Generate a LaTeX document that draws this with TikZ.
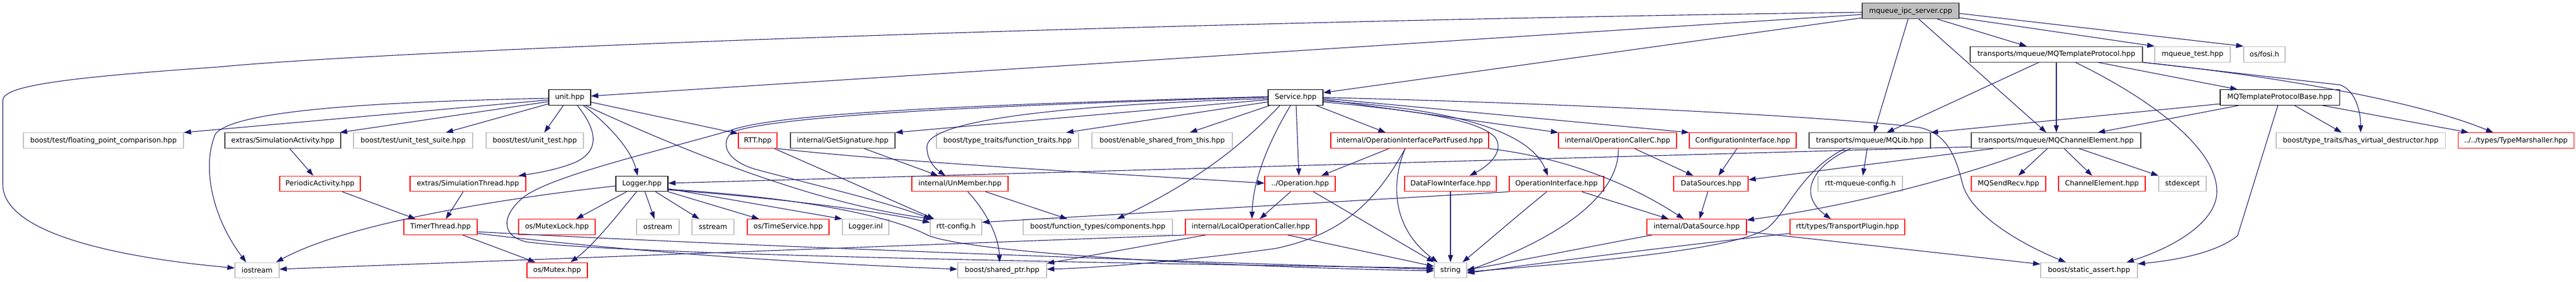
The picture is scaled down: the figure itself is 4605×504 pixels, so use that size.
\documentclass[tikz,border=0pt]{standalone}
\usepackage{fontspec}
\setmainfont{DejaVu Sans}
\usetikzlibrary{arrows.meta}
\definecolor{ecol}{HTML}{191970}
\definecolor{gb}{HTML}{BFBFBF}
\definecolor{db}{HTML}{404040}
\definecolor{rb}{HTML}{FF0000}
\begin{document}
\begin{tikzpicture}[x=1pt,y=-1pt,
 nd/.style={draw, rectangle, minimum height=27.7pt, inner sep=0pt, line width=1.1pt, font=\fontsize{12.6}{14}\selectfont, text=black},
 ng/.style={nd, draw=gb}, nr/.style={nd, draw=rb}, nk/.style={nd, draw=db}, nb/.style={nd, draw=black},
 ed/.style={draw=ecol, line width=1.1pt, -{Triangle[length=13pt,width=9pt]}}]
\fill[white] (0,0) rectangle (4605,504);
\useasboundingbox (0,0) rectangle (4605,504);
% row 0
\node[nk, fill=gb, minimum width=173pt] (main) at (3415.5,19.7) {mqueue\_ipc\_server.cpp};
% row 1
\node[nk, minimum width=308pt] (mqtp) at (3676,97.2) {transports/mqueue/MQTemplateProtocol.hpp};
\node[ng, minimum width=135pt] (mqtest) at (3919.5,97.2) {mqueue\_test.hpp};
\node[ng, minimum width=74pt] (fosi) at (4048,97.2) {os/fosi.h};
% row 2
\node[nb, minimum width=75pt] (unit) at (1018.5,174.5) {unit.hpp};
\node[nb, minimum width=98pt] (service) at (2316,174.5) {Service.hpp};
\node[nb, minimum width=213pt] (mqtpb) at (4075.5,174.5) {MQTemplateProtocolBase.hpp};
% row 3
\node[ng, minimum width=286pt] (fpc) at (185,251.7) {boost/test/floating\_point\_comparison.hpp};
\node[nk, minimum width=207pt] (simact) at (505.5,251.7) {extras/SimulationActivity.hpp};
\node[ng, minimum width=213pt] (uts) at (738.5,251.7) {boost/test/unit\_test\_suite.hpp};
\node[ng, minimum width=174pt] (ut) at (956,251.7) {boost/test/unit\_test.hpp};
\node[nr, minimum width=69pt] (rtt) at (1354.5,251.7) {RTT.hpp};
\node[nk, minimum width=187pt] (getsig) at (1506.5,251.7) {internal/GetSignature.hpp};
\node[ng, minimum width=254pt] (ftraits) at (1801,251.7) {boost/type\_traits/function\_traits.hpp};
\node[ng, minimum width=251pt] (esft) at (2077.5,251.7) {boost/enable\_shared\_from\_this.hpp};
\node[nr, minimum width=282pt] (oipf) at (2520,251.7) {internal/OperationInterfacePartFused.hpp};
\node[nr, minimum width=211pt] (occ) at (2891.5,251.7) {internal/OperationCallerC.hpp};
\node[nr, minimum width=191pt] (confif) at (3115.5,251.7) {ConfigurationInterface.hpp};
\node[nk, minimum width=217pt] (mqlib) at (3342.5,251.7) {transports/mqueue/MQLib.hpp};
\node[nk, minimum width=303pt] (mqce) at (3675.5,251.7) {transports/mqueue/MQChannelElement.hpp};
\node[ng, minimum width=302pt] (hvd) at (4220,251.7) {boost/type\_traits/has\_virtual\_destructor.hpp};
\node[nr, minimum width=207pt] (tm) at (4497.5,251.7) {../../types/TypeMarshaller.hpp};
% row 4
\node[nr, minimum width=144pt] (periodic) at (572,329) {PeriodicActivity.hpp};
\node[nr, minimum width=207pt] (simthr) at (836.5,329) {extras/SimulationThread.hpp};
\node[nb, minimum width=93pt] (logger) at (1147.5,329) {Logger.hpp};
\node[nr, minimum width=172pt] (unmember) at (1716,329) {internal/UnMember.hpp};
\node[nr, minimum width=126pt] (op) at (2324,329) {../Operation.hpp};
\node[nr, minimum width=164pt] (dfi) at (2593,329) {DataFlowInterface.hpp};
\node[nr, minimum width=169pt] (oi) at (2782.5,329) {OperationInterface.hpp};
\node[nr, minimum width=133pt] (dss) at (3058.5,329) {DataSources.hpp};
\node[ng, minimum width=151pt] (mqcfg) at (3325.5,329) {rtt-mqueue-config.h};
\node[nr, minimum width=133pt] (mqsr) at (3590.5,329) {MQSendRecv.hpp};
\node[nr, minimum width=155pt] (ce) at (3757.5,329) {ChannelElement.hpp};
\node[ng, minimum width=85pt] (stdexc) at (3901.5,329) {stdexcept};
% row 5
\node[nr, minimum width=131pt] (timer) at (787.5,406.5) {TimerThread.hpp};
\node[nr, minimum width=137pt] (mutexlock) at (995.5,406.5) {os/MutexLock.hpp};
\node[ng, minimum width=76pt] (ostream) at (1176,406.5) {ostream};
\node[ng, minimum width=75pt] (sstream) at (1274.5,406.5) {sstream};
\node[nr, minimum width=146pt] (timesvc) at (1409,406.5) {os/TimeService.hpp};
\node[ng, minimum width=83pt] (loggerinl) at (1547.5,406.5) {Logger.inl};
\node[ng, minimum width=92pt] (rttcfg) at (1709,406.5) {rtt-config.h};
\node[ng, minimum width=267pt] (ftc) at (1962.5,406.5) {boost/function\_types/components.hpp};
\node[nr, minimum width=234pt] (loc) at (2236,406.5) {internal/LocalOperationCaller.hpp};
\node[nr, minimum width=178pt] (ids) at (3033,406.5) {internal/DataSource.hpp};
\node[nr, minimum width=205pt] (tp) at (3302.5,406.5) {rtt/types/TransportPlugin.hpp};
% row 6
\node[ng, minimum width=79pt] (iostream) at (459.5,484) {iostream};
\node[nr, minimum width=108pt] (mutex) at (996,484) {os/Mutex.hpp};
\node[ng, minimum width=159pt] (sptr) at (1791.5,484) {boost/shared\_ptr.hpp};
\node[ng, minimum width=58pt] (string) at (2593,484) {string};
\node[ng, minimum width=173pt] (sa) at (3734.5,484) {boost/static\_assert.hpp};

% edges from main
\draw[ed] ([yshift=-2.3]main.west) .. controls (2000,40) and (700,90) .. (390,120) .. controls (100,140) and (5,155) .. (5,180) -- (5,330) .. controls (5,420) and (220,462) .. ([yshift=4]iostream.west);
\draw[ed] ([yshift=-6.3]main.west) -- ([yshift=2.5]unit.east);
\draw[ed] ([yshift=-12.3]main.west) -- ([yshift=8.5]service.east);
\draw[ed] ([xshift=-4.5]main.south) -- ([xshift=7.5]mqlib.north);
\draw[ed] ([xshift=14.5]main.south) -- ([xshift=-17.5]mqce.north);
\draw[ed] ([xshift=47.5]main.south) -- ([xshift=-53]mqtp.north);
\draw[ed] ([yshift=-12]main.east) -- (mqtest.north west);
\draw[ed] ([yshift=-4.3]main.east) -- (fosi.north west);
% mqtp
\draw[ed] ([xshift=-31]mqtp.south) -- ([xshift=30.5]mqlib.north);
\draw[ed] (mqtp.south) -- ([xshift=0.5]mqce.north);
\draw[ed] ([xshift=74]mqtp.south) -- ([xshift=-75.5]mqtpb.north);
\draw[ed] ([xshift=34]mqtp.south) .. controls (3830,170) and (3963,260) .. (3963,343) .. controls (3963,400) and (3880,445) .. ([xshift=67]sa.north);
\draw[ed] (mqtp.south east) -- (4183,152) .. controls (4208,160) and (4220,195) .. (hvd.north);
\draw[ed] (mqtp.south east) .. controls (4100,140) and (4330,185) .. ([xshift=-40.5]tm.north);
% mqtpb
\draw[ed] ([yshift=-11.5]mqtpb.west) -- (mqlib.north east);
\draw[ed] ([xshift=-73.5]mqtpb.south) -- ([xshift=74.5]mqce.north);
\draw[ed] ([xshift=26.5]mqtpb.south) -- ([xshift=-34]hvd.north);
\draw[ed] ([xshift=76.5]mqtpb.south) -- ([xshift=-84.5]tm.north);
\draw[ed] ([xshift=-3.5]mqtpb.south) -- (4000,422) .. controls (3960,455) and (3880,467) .. ([yshift=-3]sa.north east);
% mqlib
\draw[ed] ([xshift=-4.5]mqlib.south) -- ([xshift=4.5]mqcfg.north);
\draw[ed] ([xshift=-34.5]mqlib.south) .. controls (3235,300) and (3215,350) .. ([xshift=-29.5]tp.north);
\draw[ed] ([xshift=-44.5]mqlib.south) .. controls (3220,305) and (3195,380) .. (3160,408) .. controls (3100,450) and (2800,472) .. ([yshift=-3]string.east);
% mqce
\draw[ed] ([yshift=-11.3]mqce.west) -- ([yshift=1]logger.east);
\draw[ed] ([xshift=-112.5]mqce.south) -- ([yshift=7]dss.east);
\draw[ed] ([xshift=-35.5]mqce.south) .. controls (3500,320) and (3300,370) .. ([yshift=-2]ids.north east);
\draw[ed] ([xshift=-15.5]mqce.south) -- ([xshift=17.5]mqsr.north);
\draw[ed] ([xshift=14.5]mqce.south) -- ([xshift=-17.5]ce.north);
\draw[ed] ([xshift=41.5]mqce.south) -- (stdexc.north west);
% unit
\draw[ed] ([yshift=-1.5]unit.west) .. controls (700,182) and (420,195) .. (385,240) .. controls (360,300) and (380,390) .. ([xshift=-19.5]iostream.north);
\draw[ed] ([yshift=-4.5]unit.west) -- (fpc.north east);
\draw[ed] ([yshift=-7.5]unit.west) -- ([xshift=-2]simact.north east);
\draw[ed] ([yshift=-11.5]unit.west) -- ([xshift=58.5]uts.north);
\draw[ed] ([xshift=-11.5]unit.south) -- ([xshift=17]ut.north);
\draw[ed] ([xshift=13.5]unit.south) .. controls (1065,230) and (1075,268) .. (1030,290) .. controls (1000,303) and (960,310) .. ([xshift=90.5]simthr.north);
\draw[ed] ([xshift=24.5]unit.south) .. controls (1090,225) and (1128,268) .. ([xshift=-7.5]logger.north);
\draw[ed] ([yshift=-8.5]unit.east) -- ([yshift=-2]rtt.north west);
\draw[ed] ([xshift=28.5]unit.south) .. controls (1200,260) and (1450,365) .. ([xshift=-41]rttcfg.north);
% simulation chain
\draw[ed] ([xshift=12.5]simact.south) -- ([xshift=-12]periodic.north);
\draw[ed] ([xshift=40]periodic.south) -- ([xshift=-44.5]timer.north);
\draw[ed] ([xshift=-8.5]simthr.south) -- ([xshift=9.5]timer.north);
\draw[ed] ([xshift=39.5]timer.south) -- ([xshift=-39]mutex.north);
\draw[ed] ([yshift=-11.5]timer.east) .. controls (1100,448) and (1400,470) .. ([yshift=2]sptr.west);
\draw[ed] ([yshift=-8.5]timer.east) .. controls (1300,440) and (2200,472) .. ([yshift=2]string.west);
% logger
\draw[ed] ([xshift=-27.5]logger.south) -- ([xshift=34.5]mutexlock.north);
\draw[ed] ([xshift=-9.5]logger.south) .. controls (1100,390) and (1060,440) .. ([xshift=24]mutex.north);
\draw[ed] ([yshift=-4]logger.west) .. controls (900,355) and (620,400) .. ([xshift=-6]iostream.north east);
\draw[ed] ([xshift=5.5]logger.south) -- ([xshift=-6]ostream.north);
\draw[ed] ([xshift=24.5]logger.south) -- ([xshift=-24.5]sstream.north);
\draw[ed] (logger.south east) -- ([xshift=-52]timesvc.north);
\draw[ed] ([yshift=-9]logger.east) -- (loggerinl.north west);
\draw[ed] ([yshift=-11]logger.east) .. controls (1400,355) and (1580,380) .. ([yshift=8]rttcfg.west);
\draw[ed] ([yshift=-10]logger.east) .. controls (1450,355) and (1600,390) .. (1660,422) .. controls (1750,455) and (2200,478) .. ([yshift=-1]string.west);
% rtt, getsig
\draw[ed] (rtt.south east) .. controls (1600,290) and (2000,312) .. ([yshift=1]op.west);
\draw[ed] ([xshift=30]rtt.south) -- ([xshift=-39]rttcfg.north);
\draw[ed] ([xshift=38.5]getsig.south) -- ([xshift=-39]unmember.north);
% service
\draw[ed] ([yshift=-4]service.west) -- (getsig.north east);
\draw[ed] ([yshift=-8]service.west) -- ([xshift=105]ftraits.north);
\draw[ed] ([xshift=-46]service.south) -- ([xshift=49.5]esft.north);
\draw[ed] ([yshift=-2]service.west) .. controls (1900,188) and (1660,215) .. (1657,262) .. controls (1656,285) and (1672,302) .. ([xshift=-26]unmember.north);
\draw[ed] ([yshift=0.5]service.west) .. controls (1800,188) and (1400,205) .. (1310,236) .. controls (1290,250) and (1290,285) .. (1350,303) .. controls (1450,330) and (1580,360) .. ([xshift=2]rttcfg.north west);
\draw[ed] ([yshift=1.5]service.west) .. controls (1800,186) and (1400,200) .. (1307,233) .. controls (1200,265) and (1000,310) .. (940,350) .. controls (900,380) and (890,420) .. (940,433) .. controls (1100,455) and (1900,470) .. ([yshift=4]string.west);
\draw[ed] ([xshift=-28]service.south) .. controls (2230,250) and (2150,320) .. ([xshift=34.5]ftc.north);
\draw[ed] ([xshift=-9]service.south) .. controls (2270,250) and (2240,320) .. ([xshift=2]loc.north);
\draw[ed] ([xshift=1]service.south) -- ([xshift=-2]op.north);
\draw[ed] ([xshift=37]service.south) -- ([xshift=-43]oipf.north);
\draw[ed] ([yshift=-3.5]service.east) -- (occ.north west);
\draw[ed] ([yshift=-1.5]service.east) -- (confif.north west);
\draw[ed] (service.east) .. controls (2900,188) and (3300,212) .. (3430,228) .. controls (3490,240) and (3500,300) .. (3510,335) .. controls (3530,390) and (3620,440) .. ([xshift=-41.5]sa.north);
\draw[ed] ([yshift=-6]service.east) .. controls (2600,195) and (2735,235) .. ([xshift=-15.5]oi.north);
\draw[ed] ([yshift=-8]service.east) .. controls (2550,200) and (2640,215) .. (2672,245) .. controls (2690,268) and (2665,295) .. ([xshift=34]dfi.north);
% oipf
\draw[ed] ([xshift=-37]oipf.south) -- ([xshift=38]op.north);
\draw[ed] ([xshift=-8]oipf.south) .. controls (2485,330) and (2490,410) .. ([xshift=-23]string.north);
\draw[ed] ([xshift=-8]oipf.south) .. controls (2460,360) and (2400,420) .. (2280,445) .. controls (2100,470) and (1950,480) .. ([yshift=2]sptr.east);
\draw[ed] (oipf.south east) .. controls (2780,280) and (2900,320) .. ([xshift=-23]ids.north);
% occ, confif, dss, oi, dfi, op
\draw[ed] ([xshift=30.5]occ.south) -- ([xshift=-31.5]dss.north);
\draw[ed] ([xshift=1.5]occ.south) .. controls (2895,330) and (2830,410) .. ([yshift=-1]string.east);
\draw[ed] ([xshift=-10.5]confif.south) -- ([xshift=13.5]dss.north);
\draw[ed] ([xshift=-5.5]dss.south) -- ([xshift=5]ids.north);
\draw[ed] ([xshift=45.5]oi.south) -- ([xshift=-50]ids.north);
\draw[ed] ([xshift=-17.5]oi.south) .. controls (2720,380) and (2650,440) .. ([xshift=-8]string.north east);
\draw[ed] (oi.south west) -- ([yshift=8.5]rttcfg.east);
\draw[ed] (dfi.south) -- (string.north);
\draw[ed] ([xshift=-17]op.south) -- ([xshift=16]loc.north);
\draw[ed] ([xshift=24]op.south) -- (string.north west);
% loc, unmember, ids, tp
\draw[ed] ([xshift=66]loc.south) -- ([yshift=7]string.west);
\draw[ed] ([xshift=-81]loc.south) -- ([yshift=-2]sptr.north east);
\draw[ed] (loc.south west) -- ([yshift=2]iostream.east);
\draw[ed] ([xshift=14]unmember.south) .. controls (1760,375) and (1785,420) .. ([xshift=-4.5]sptr.north);
\draw[ed] ([xshift=46]unmember.south) -- ([xshift=-54.5]ftc.north);
\draw[ed] ([xshift=-80]ids.south) .. controls (2850,440) and (2700,470) .. ([yshift=1]string.east);
\draw[ed] ([yshift=-8.5]ids.east) -- ([yshift=11]sa.west);
\draw[ed] ([yshift=-11.5]tp.west) .. controls (3000,440) and (2800,465) .. ([yshift=-5]string.east);
\end{tikzpicture}
\end{document}
